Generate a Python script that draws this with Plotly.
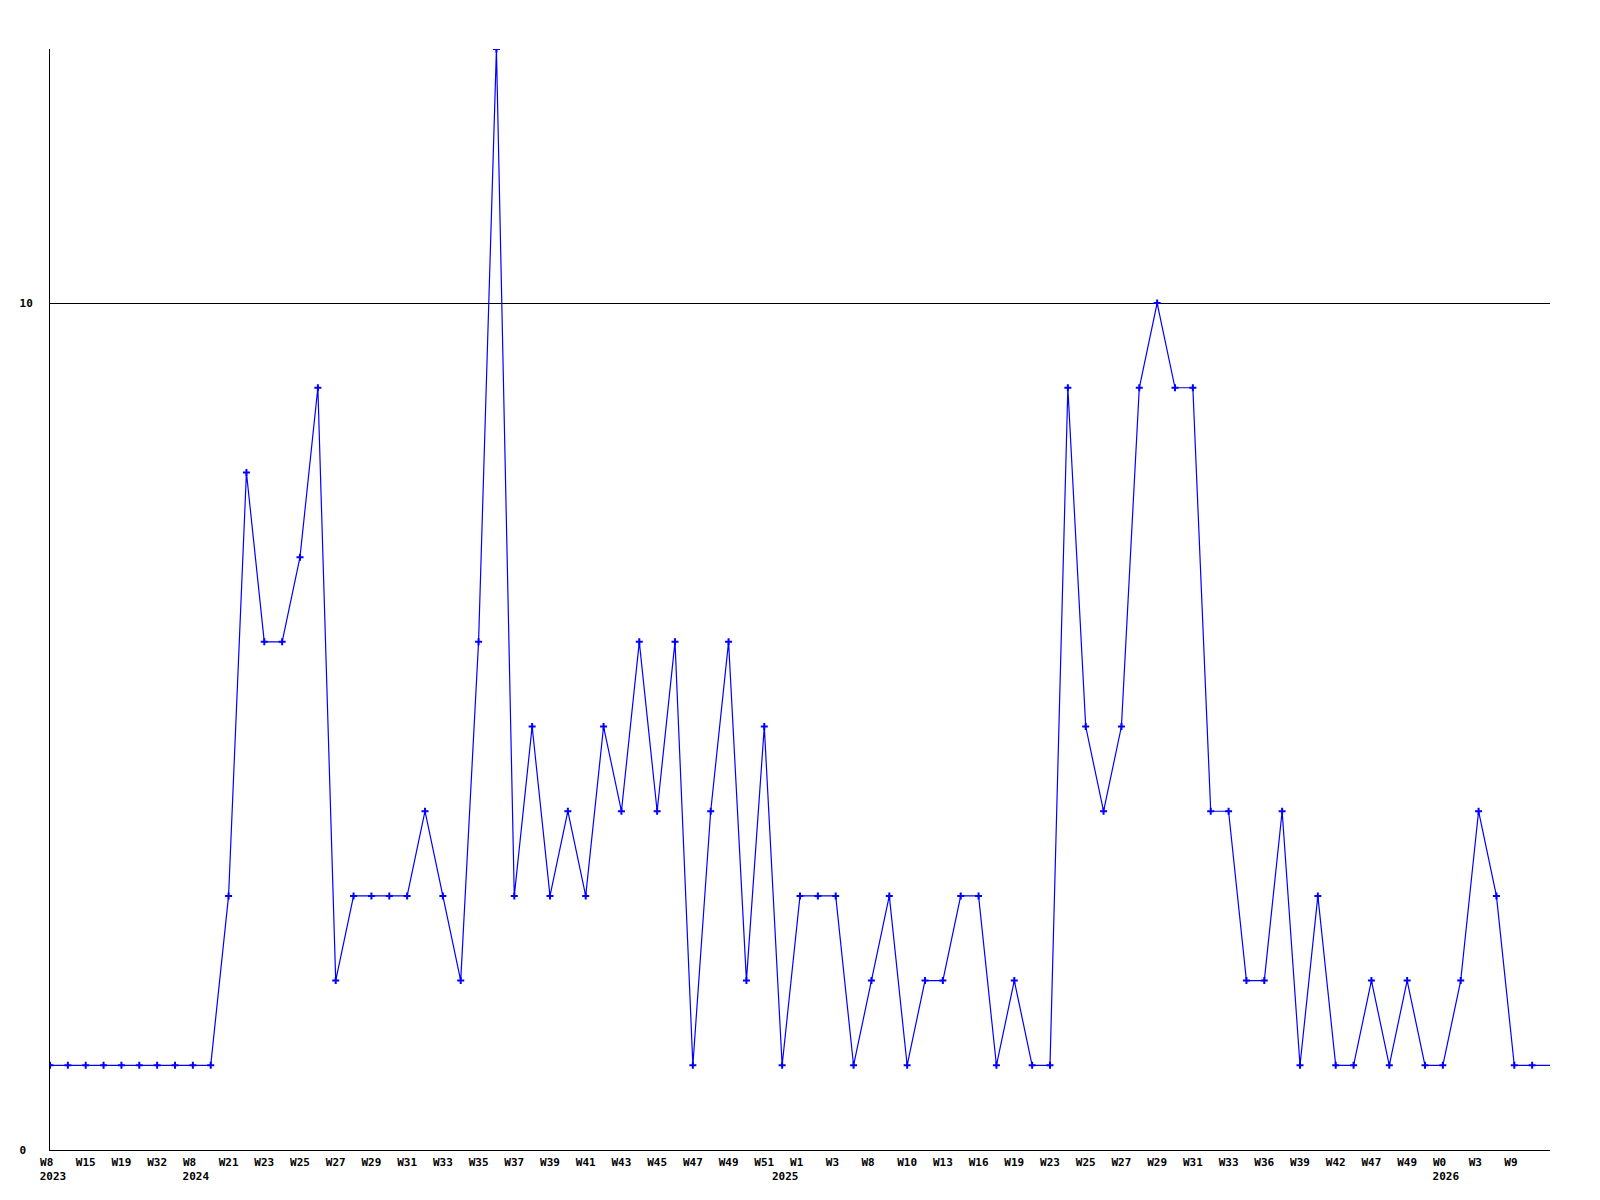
import plotly.graph_objects as go

values = [1, 1, 1, 1, 1, 1, 1, 1, 1, 1,
          3, 8, 6, 6, 7, 9, 2, 3, 3, 3,
          3, 4, 3, 2, 6, 13, 3, 5, 3, 4,
          3, 5, 4, 6, 4, 6, 1, 4, 6, 2,
          5, 1, 3, 3, 3, 1, 2, 3, 1, 2,
          2, 3, 3, 1, 2, 1, 1, 9, 5, 4,
          5, 9, 10, 9, 9, 4, 4, 2, 2, 4,
          1, 3, 1, 1, 2, 1, 2, 1, 1, 2,
          4, 3, 1, 1, 1]

week_labels = ["W8", "W15", "W19", "W32", "W8", "W21", "W23", "W25", "W27", "W29",
               "W31", "W33", "W35", "W37", "W39", "W41", "W43", "W45", "W47", "W49",
               "W51", "W1", "W3", "W8", "W10", "W13", "W16", "W19", "W23", "W25",
               "W27", "W29", "W31", "W33", "W36", "W39", "W42", "W47", "W49", "W0",
               "W3", "W9"]
year_labels = ["2023", "2024", "2025", "2026"]
year_positions = [0, 8, 41, 78]

NB = "\u00a0"
n = len(values)
x = list(range(n))
tickvals = [2 * i for i in range(len(week_labels))]
ticktext = ["<b>" + w + NB * (3 - len(w)) + "</b>" for w in week_labels]

fam = "DejaVu Sans Mono, Liberation Mono, monospace"
tf = dict(family=fam, size=11, color="black")

fig = go.Figure()
fig.add_trace(go.Scatter(
    x=x, y=values, mode="lines",
    line=dict(color="#0000ff", width=1.2),
    hoverinfo="x+y",
))
fig.add_trace(go.Scatter(
    x=x[:-1], y=values[:-1], mode="markers",
    marker=dict(symbol="cross-thin", size=5, color="#0000ff",
                line=dict(color="#0000ff", width=2)),
    hoverinfo="skip",
))
# carrier trace so the year axis is drawn
fig.add_trace(go.Scatter(
    x=year_positions, y=[0] * len(year_positions), xaxis="x2", mode="markers",
    marker=dict(opacity=0, size=1), hoverinfo="skip",
))

fig.update_layout(
    width=1600, height=1200,
    paper_bgcolor="white", plot_bgcolor="white",
    margin=dict(l=42, r=58, t=41, b=58),
    showlegend=False,
    font=tf,
    xaxis=dict(range=[0, n - 1], tickmode="array", tickvals=tickvals,
               ticktext=ticktext, showgrid=False, zeroline=False, automargin=False,
               showline=True, linecolor="black", linewidth=1,
               ticks="", tickfont=tf, tickangle=0, ticklabelstandoff=2),
    xaxis2=dict(range=[0, n - 1], overlaying="x", anchor="y", side="bottom",
                tickmode="array", tickvals=year_positions,
                ticktext=["<b>" + y + "</b>" for y in year_labels],
                showgrid=False, zeroline=False, automargin=False, showline=False,
                ticks="", tickfont=tf, tickangle=0, ticklabelstandoff=18,
                ticklabelshift=3),
    yaxis=dict(range=[0, 13], tickmode="array", tickvals=[0, 10],
               ticktext=["<b>0" + NB + "</b>", "<b>10</b>"],
               showgrid=True, gridcolor="black", gridwidth=1, zeroline=False,
               automargin=False,
               showline=True, linecolor="black", linewidth=1, ticks="",
               tickfont=tf, ticklabelstandoff=14),
)

fig.write_html("out.html")
